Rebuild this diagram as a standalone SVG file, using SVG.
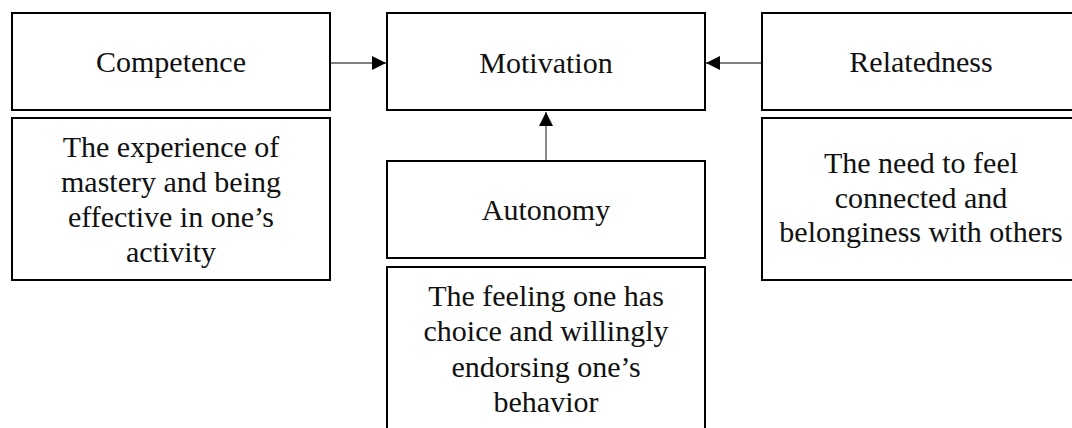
<svg xmlns="http://www.w3.org/2000/svg" width="1072" height="428" viewBox="0 0 1072 428">
<style>
.box{fill:#fff;stroke:#000;stroke-width:2}
.t{font-family:"Liberation Serif","Times New Roman",serif;font-size:30px;fill:#111;text-anchor:middle}
.c{stroke:#555;stroke-width:1.4;fill:none}
</style>
<defs>
<marker id="ah" viewBox="0 0 14 14" refX="14" refY="7" markerWidth="14" markerHeight="14" markerUnits="userSpaceOnUse" orient="auto">
<path d="M0,0 L14,7 L0,14 Z" fill="#000"/>
</marker>
</defs>
<rect width="1072" height="428" fill="#fff"/>
<g id="connectors">
<line class="c" x1="331" y1="63" x2="386" y2="63" marker-end="url(#ah)"/>
<line class="c" x1="761" y1="63" x2="706" y2="63" marker-end="url(#ah)"/>
<line class="c" x1="546" y1="160" x2="546" y2="112" marker-end="url(#ah)"/>
</g>
<g id="competence">
<rect class="box" x="12" y="13" width="318" height="97"/>
<text class="t" x="171" y="72">Competence</text>
</g>
<g id="competence-desc">
<rect class="box" x="12" y="118" width="318" height="162"/>
<text class="t" x="171" y="157">The experience of</text>
<text class="t" x="171" y="192">mastery and being</text>
<text class="t" x="171" y="227">effective in one’s</text>
<text class="t" x="171" y="262">activity</text>
</g>
<g id="motivation">
<rect class="box" x="387" y="13" width="318" height="97"/>
<text class="t" x="546" y="73">Motivation</text>
</g>
<g id="autonomy">
<rect class="box" x="387" y="161" width="318" height="97"/>
<text class="t" x="546" y="220">Autonomy</text>
</g>
<g id="autonomy-desc">
<rect class="box" x="387" y="267" width="318" height="175"/>
<text class="t" x="546" y="306">The feeling one has</text>
<text class="t" x="546" y="341">choice and willingly</text>
<text class="t" x="546" y="377">endorsing one’s</text>
<text class="t" x="546" y="412">behavior</text>
</g>
<g id="relatedness">
<rect class="box" x="762" y="13" width="318" height="97"/>
<text class="t" x="921" y="72">Relatedness</text>
</g>
<g id="relatedness-desc">
<rect class="box" x="762" y="118" width="318" height="162"/>
<text class="t" x="921" y="173">The need to feel</text>
<text class="t" x="921" y="208">connected and</text>
<text class="t" x="921" y="242">belonginess with others</text>
</g>
</svg>
